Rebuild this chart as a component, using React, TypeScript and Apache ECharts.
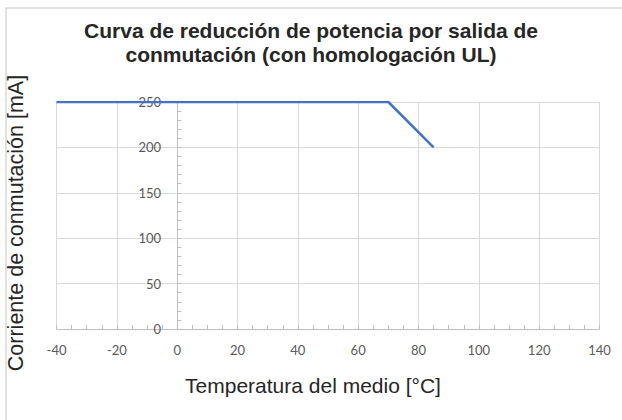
import React, { useEffect, useRef } from "react";
import * as echarts from "echarts";

const titleLines = ["Curva de reducción de potencia por salida de", "conmutación (con homologación UL)"];
const xTitle = "Temperatura del medio [°C]";
const yTitle = "Corriente de conmutación [mA]";
const temperatures = [-40, 70, 85];
const currents = [250, 250, 200];
const xRange = [-40, 140];
const yRange = [0, 250];

const GRID_LEFT = 56.5;
const GRID_RIGHT = 22.5;
const CHART_W = 622;

export default function App() {
  const ref = useRef<HTMLDivElement>(null);
  useEffect(() => {
    if (!ref.current) return;
    const chart = echarts.init(ref.current, null, { renderer: "svg" });
    const plotW = CHART_W - GRID_LEFT - GRID_RIGHT;
    const zeroOffset = (plotW * (0 - xRange[0])) / (xRange[1] - xRange[0]);
    chart.setOption({
      animation: false,
      backgroundColor: "#ffffff",
      title: {
        text: titleLines.join("\n"),
        left: "center",
        top: 19,
        padding: 0,
        textStyle: {
          fontFamily: "Liberation Sans",
          fontSize: 21,
          fontWeight: "bold",
          color: "#262626",
          lineHeight: 23.5,
        },
      },
      graphic: [
        {
          type: "rect",
          shape: { x: 6, y: 8, width: 640, height: 440 },
          style: { fill: "none", stroke: "#d9d9d9", lineWidth: 1.5 },
          silent: true,
          z: -1,
        },
        {
          type: "text",
          x: 16,
          y: 223,
          rotation: Math.PI / 2,
          style: {
            text: yTitle,
            fontFamily: "Liberation Sans",
            fontSize: 21.5,
            fill: "#262626",
            align: "center",
            verticalAlign: "middle",
          },
        },
        {
          type: "text",
          x: 313,
          y: 385,
          style: {
            text: xTitle,
            fontFamily: "Liberation Sans",
            fontSize: 21,
            fill: "#262626",
            align: "center",
            verticalAlign: "middle",
          },
        },
      ],
      grid: { left: GRID_LEFT, right: GRID_RIGHT, top: 102, bottom: 91 },
      xAxis: {
        type: "value",
        min: xRange[0],
        max: xRange[1],
        interval: 20,
        axisLine: { show: true, onZero: true, lineStyle: { color: "#bfbfbf", width: 1 } },
        axisTick: { show: true, inside: true, length: 4, lineStyle: { color: "#bfbfbf" } },
        minorTick: { show: true, splitNumber: 4, length: 4, lineStyle: { color: "#bfbfbf" } },
        splitLine: { show: true, lineStyle: { color: "#d9d9d9", width: 1 } },
        axisLabel: { color: "#595959", fontFamily: "Lato", fontSize: 13, margin: 14 },
      },
      yAxis: {
        type: "value",
        min: yRange[0],
        max: yRange[1],
        interval: 50,
        offset: -zeroOffset,
        axisLine: { show: true, onZero: false, lineStyle: { color: "#bfbfbf", width: 1 } },
        axisTick: { show: true, inside: true, length: 4, lineStyle: { color: "#bfbfbf" } },
        minorTick: { show: true, splitNumber: 5, length: 4, lineStyle: { color: "#bfbfbf" } },
        splitLine: { show: true, lineStyle: { color: "#d9d9d9", width: 1 } },
        axisLabel: { color: "#595959", fontFamily: "Lato", fontSize: 13, margin: 16 },
      },
      series: [
        {
          type: "line",
          data: temperatures.map((t, i) => [t, currents[i]]),
          showSymbol: false,
          symbol: "none",
          lineStyle: { color: "#4472c4", width: 2.5 },
          z: 3,
        },
      ],
    });
    return () => chart.dispose();
  }, []);
  return <div ref={ref} style={{ width: 622, height: 420, position: "fixed", left: 0, top: 0 }} />;
}
